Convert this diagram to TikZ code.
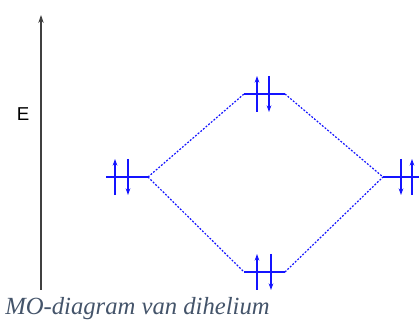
\documentclass[tikz,border=0pt]{standalone}
\usepackage{fontspec}
\setmainfont{Liberation Serif}
\newfontfamily\labelfont{Liberation Sans}
\usetikzlibrary{arrows.meta}
\definecolor{capgray}{HTML}{44546A}
\definecolor{mo}{RGB}{20,20,255}

\begin{document}
\begin{tikzpicture}[
	x=0.75pt, y=-0.75pt,
	lvl/.style={draw=mo, line width=1.7pt},
	eup/.style={draw=mo, line width=1.1pt, -{Stealth[length=5pt,width=3.5pt]}},
	link/.style={draw=mo, line width=0.9pt, dash pattern=on 1.4pt off 1.2pt},
	axis/.style={draw=black!75, line width=0.9pt, -{Stealth[length=6pt,width=4pt]}}
	]
	\useasboundingbox (0,0) rectangle (419,320);
	
	% energy axis
	\coordinate (base) at (41,290);
	\coordinate (tip)  at (41,15);
	\draw[axis] (base) -- (tip);
	\node[font=\labelfont\fontsize{14}{16}\selectfont] (E) at (23,114) {E};
	
	% energy levels
	\foreach \n/\xa/\xb/\y in {la/106/148/177, mob/244/285/94, mon/244/285/272, ra/383/420/177}
		\draw[lvl] (\xa,\y) coordinate (\n w) -- (\xb,\y) coordinate (\n e);
	
	% electrons (x / level y / direction)
	\foreach \x/\y/\d in {115/177/-1, 128/177/1, 257/94/-1, 269/94/1,
		257/272/-1, 271/272/1, 401/177/1, 412/177/-1}
		\draw[eup] (\x,\y-\d*18) -- (\x,\y+\d*18);
	
	% correlation lines
	\draw[link] (lae) -- (mobw);
	\draw[link] (lae) -- (monw);
	\draw[link] (mobe) -- (raw);
	\draw[link] (mone) -- (raw);
	
	\node[anchor=base west, text=capgray, font=\itshape\fontsize{18.5}{20}\selectfont, inner sep=0pt] (cap) at (5,315) {MO-diagram van dihelium};
	
\end{tikzpicture}
\end{document}
